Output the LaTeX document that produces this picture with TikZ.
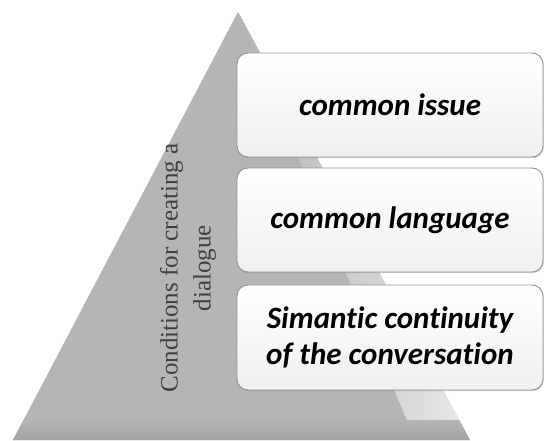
\documentclass[tikz,border=0pt]{standalone}
\usepackage{fontspec}
\setmainfont{Liberation Serif}
\newfontfamily\boxfont[Ligatures=CommonOff]{Carlito}
\usetikzlibrary{shadows}
\begin{document}
\begin{tikzpicture}[x=1pt,y=1pt,
  condbox/.style={draw=gray!85,line width=0.9pt,rounded corners=11pt,
    top color=white,bottom color=gray!12,minimum width=306pt,
    minimum height=104pt,align=center,inner sep=0pt,
    font=\boxfont\fontsize{31}{36}\selectfont\bfseries\itshape,
    drop shadow={shadow xshift=0.8pt,shadow yshift=-1.2pt,opacity=0.35}}]
  \useasboundingbox (0,0) rectangle (545,440);
  % pyramid
  \fill[gray!58] (13,0) -- (238,428) -- (470,0) -- cycle;
  \shade[left color=gray!58,right color=gray!18] (238,428) -- (415,0) -- (470,0) -- cycle;
  \shade[top color=gray!58,bottom color=gray!72] (13,0) -- (23.5,20) -- (459.2,20) -- (470,0) -- cycle;
  % title
  \draw (188,172) node[rotate=90,align=center,text=black!75,
    font=\fontsize{25}{33}\selectfont] (title) {Conditions for creating a\\dialogue};
  % boxes
  \draw (390,335) node[condbox] (n1) {common issue};
  \draw (390,220) node[condbox] (n2) {common language};
  \draw (390,102.5) node[condbox,minimum height=105pt] (n3) {Simantic continuity\\of the conversation};
\end{tikzpicture}
\end{document}
